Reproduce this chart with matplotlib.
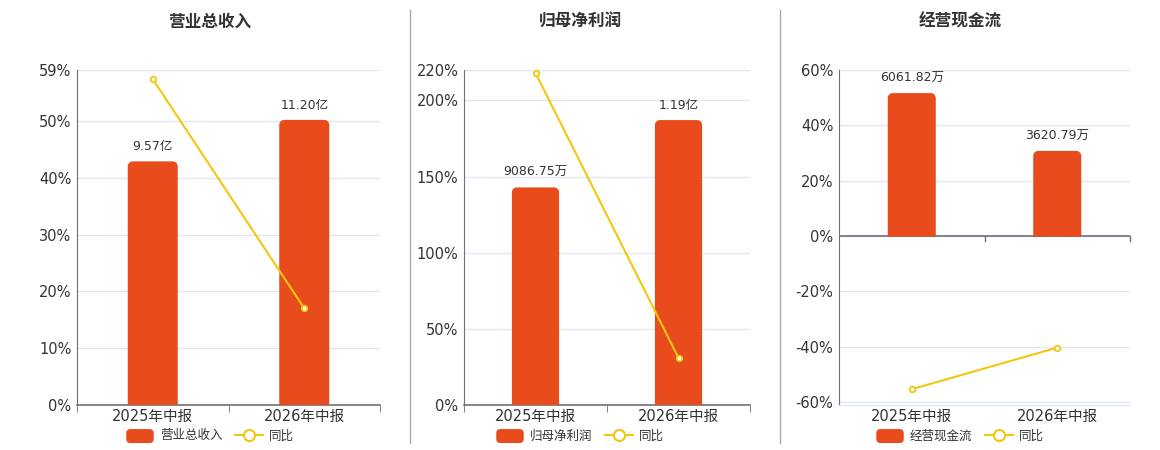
import numpy as np
import matplotlib.pyplot as plt
from matplotlib.patches import Polygon, Patch, FancyBboxPatch
from matplotlib.lines import Line2D
from matplotlib.legend_handler import HandlerPatch

plt.rcParams['font.family'] = ['DejaVu Sans', 'Noto Sans CJK SC']

categories = ['2025年中报', '2026年中报']

titles = ['营业总收入', '归母净利润', '经营现金流']
bar_names = ['营业总收入', '归母净利润', '经营现金流']

# bar values (wan yuan) and their text labels
revenue = [95700, 112000]
revenue_labels = ['9.57亿', '11.20亿']
profit = [9086.75, 11900]
profit_labels = ['9086.75万', '1.19亿']
cashflow = [6061.82, 3620.79]
cashflow_labels = ['6061.82万', '3620.79万']

# year-on-year growth (%)
revenue_yoy = [57.4, 17.03]
profit_yoy = [218.0, 30.96]
cashflow_yoy = [-55.3, -40.27]

y_ticks = [[0, 10, 20, 30, 40, 50, 59],
           [0, 50, 100, 150, 200, 220],
           [-60, -40, -20, 0, 20, 40, 60]]
y_lims = [(0, 59), (0, 220), (-61, 60)]
bar_lims = [(0, 131600), (0, 13990), (-7110, 7037)]

BAR = '#E84B1C'
LINE = '#F2C70E'
GRID = '#E0E6F1'
AXIS = '#6E7079'
TXT = '#333333'

fig = plt.figure(figsize=(11.6, 4.5), dpi=100)

lefts = [77, 464, 839]
widths = [303, 286, 291]
centers = [210, 580, 960]


def rounded_bar(ax, x, h, w, color, r=5):
    # bar with rounded top corners, radius given in pixels
    fig.canvas.draw()
    inv = ax.transData.inverted()
    p0 = inv.transform((0, 0))
    p1 = inv.transform((r, r))
    rx = abs(p1[0] - p0[0])
    ry = abs(p1[1] - p0[1])
    x0, x1 = x - w / 2, x + w / 2
    t = np.linspace(0, np.pi / 2, 12)
    pts = [(x0, 0)]
    pts += [(x0 + rx - rx * np.cos(a), h - ry + ry * np.sin(a)) for a in t]
    pts += [(x1 - rx + rx * np.sin(a), h - ry + ry * np.cos(a)) for a in t]
    pts += [(x1, 0)]
    ax.add_patch(Polygon(pts, closed=True, fc=color, ec='none', zorder=2))


class RoundHandler(HandlerPatch):
    def create_artists(self, legend, orig, xd, yd, w, h, fs, trans):
        p = FancyBboxPatch((xd, yd - 3.5), w, h + 2,
                           boxstyle="round,pad=0,rounding_size=3",
                           fc=BAR, ec='none', transform=trans)
        return [p]


datasets = [(revenue, revenue_labels, revenue_yoy),
            (profit, profit_labels, profit_yoy),
            (cashflow, cashflow_labels, cashflow_yoy)]

x = np.arange(len(categories))
for i, (vals, labs, yoy) in enumerate(datasets):
    ax = fig.add_axes([lefts[i] / 1160, 45 / 450, widths[i] / 1160, 335 / 450])
    ax.set_xlim(-0.5, 1.5)
    ax.set_ylim(*y_lims[i])
    ax.set_yticks(y_ticks[i])
    ax.set_yticklabels([f'{t}%' for t in y_ticks[i]])
    ax.grid(axis='y', color=GRID, lw=1)
    ax.set_axisbelow(True)
    for s in ['top', 'right']:
        ax.spines[s].set_visible(False)
    ax.spines['left'].set_color(AXIS)
    ax.tick_params(axis='y', length=0, labelsize=10.5, labelcolor=TXT, pad=4)
    ax.set_xticks(x)
    ax.set_xticklabels(categories)
    ax.tick_params(axis='x', which='major', length=0, labelsize=10.5, labelcolor=TXT, pad=3)
    ax.set_xticks([-0.5, 0.5, 1.5], minor=True)
    if i < 2:
        ax.spines['bottom'].set_color(AXIS)
        ax.spines['bottom'].set_linewidth(1.2)
        ax.tick_params(axis='x', which='minor', length=5, color=AXIS)
    else:
        ax.spines['bottom'].set_color(GRID)
        ax.tick_params(axis='x', which='minor', length=0)
        ax.axhline(0, color=AXIS, lw=1.2, zorder=3)
        for t in [0.5, 1.5]:
            ax.plot([t, t], [0, -1.8], color=AXIS, lw=1, zorder=3, clip_on=False)

    bx = ax.twinx()
    bx.set_ylim(*bar_lims[i])
    bx.axis('off')
    bx.set_xlim(-0.5, 1.5)
    for xi, v, lab in zip(x, vals, labs):
        rounded_bar(bx, xi, v, 0.33, BAR)
        bx.annotate(lab, (xi, v), xytext=(0, 6), textcoords='offset points',
                    ha='center', va='bottom', fontsize=9, color=TXT)

    lx = ax.twinx()
    lx.set_ylim(*y_lims[i])
    lx.axis('off')
    lx.plot(x, yoy, color=LINE, lw=1.5, marker='o', ms=4,
            mfc='white', mec=LINE, mew=1.3, zorder=4, clip_on=False)

    fig.text(centers[i] / 1160, 1 - 22 / 450, titles[i], ha='center', va='center',
             fontsize=12, fontweight='bold', color=TXT)

    handles = [Patch(fc=BAR, ec='none'),
               Line2D([0], [0], color=LINE, lw=1.5, marker='o', ms=8,
                      mfc='white', mec=LINE, mew=1.5)]
    fig.legend(handles, [bar_names[i], '同比'], loc='center',
               bbox_to_anchor=(centers[i] / 1160, 1 - 436 / 450), ncol=2,
               frameon=False, fontsize=9, handlelength=2.2, handleheight=1.0,
               columnspacing=1.0, handletextpad=0.5, labelcolor=TXT,
               handler_map={Patch: RoundHandler()})

# panel separators
for sx in [410, 780]:
    fig.add_artist(Line2D([sx / 1160, sx / 1160], [1 - 443 / 450, 1 - 10 / 450],
                          color='#AAAAAA', lw=1))

fig.savefig('out.png', dpi=100)
